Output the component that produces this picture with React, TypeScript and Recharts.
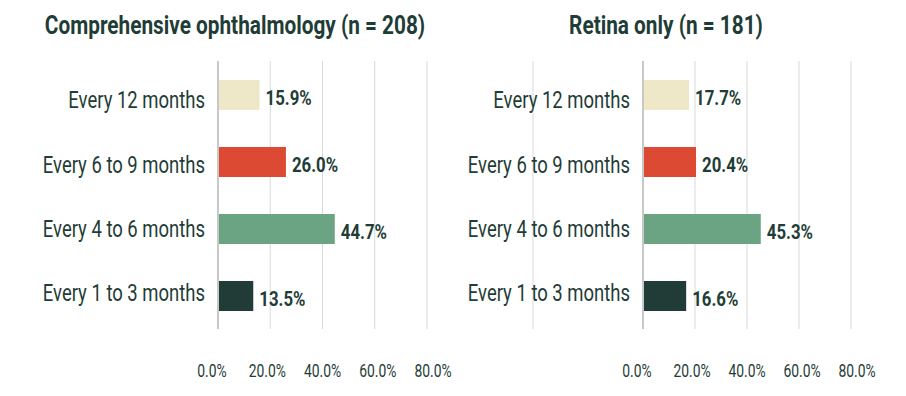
import { BarChart, Bar, XAxis, YAxis, CartesianGrid, Cell, LabelList, ReferenceLine } from 'recharts';

const categories = ['Every 12 months', 'Every 6 to 9 months', 'Every 4 to 6 months', 'Every 1 to 3 months'];
const comprehensiveValues = [15.9, 26.0, 44.7, 13.5];
const retinaValues = [17.7, 20.4, 45.3, 16.6];
const barColors = ['#EEE7C8', '#DC4A33', '#6BA482', '#213C37'];
const xTicks = [0, 20, 40, 60, 80];
const titles = ['Comprehensive ophthalmology (n = 208)', 'Retina only (n = 181)'];
// stray grid line visible left of the right-hand axis in the source
const strayLineValue = -42.3;

const FONT = "Roboto, 'Liberation Sans', sans-serif";
const TEXT = '#1F3D37';
// no condensed font installed, so squeeze text horizontally
const SQUEEZE = 0.77;

const comprehensiveData = categories.map((name, i) => ({ name, value: comprehensiveValues[i] }));
const retinaData = categories.map((name, i) => ({ name, value: retinaValues[i] }));

interface CTextProps {
  x: number;
  y: number;
  anchor?: 'start' | 'middle' | 'end';
  size: number;
  bold?: boolean;
  sx?: number;
  children: string;
}

function CText({ x, y, anchor = 'start', size, bold, sx = SQUEEZE, children }: CTextProps) {
  return (
    <text
      transform={`translate(${x} ${y}) scale(${sx} 1)`}
      textAnchor={anchor}
      fontFamily={FONT}
      fontSize={size}
      fontWeight={bold ? 'bold' : 'normal'}
      fill={TEXT}
    >
      {children}
    </text>
  );
}

function XTick({ x, y, payload }: any) {
  // tick labels in the source sit a little wider apart than the grid
  const shift = ((payload.value - 40) / 20) * 3;
  return (
    <CText x={x + shift} y={y + 39.5} anchor="middle" size={18}>
      {`${payload.value.toFixed(1)}%`}
    </CText>
  );
}

function YTick({ x, y, payload, index }: any) {
  // category labels are spaced slightly tighter than the bars in the source
  const nudge = -(index - 1.5) * 2.55;
  return (
    <CText x={x} y={y + 9.8 + nudge} anchor="end" size={24}>
      {payload.value}
    </CText>
  );
}

function ValueLabel({ x, y, width, height, value }: any) {
  return (
    <CText x={x + width + 6} y={y + height / 2 + 10} size={21} bold sx={0.8}>
      {`${Number(value).toFixed(1)}%`}
    </CText>
  );
}

interface PanelProps {
  data: { name: string; value: number }[];
  axisWidth: number;
  rightMargin: number;
  stray?: number;
}

function Panel({ data, axisWidth, rightMargin, stray }: PanelProps) {
  return (
    <BarChart
      width={453}
      height={396}
      data={data}
      layout="vertical"
      margin={{ top: 61, right: rightMargin, bottom: 0, left: 0 }}
      barSize={30}
      style={{ overflow: 'visible' }}
    >
      <CartesianGrid horizontal={false} stroke="#D9D9D9" />
      {stray !== undefined && (
        <ReferenceLine x={stray} stroke="#D9D9D9" ifOverflow="visible" />
      )}
      <XAxis
        type="number"
        domain={[0, 80]}
        ticks={xTicks}
        axisLine={false}
        tickLine={false}
        height={67}
        tick={<XTick />}
        interval={0}
      />
      <YAxis
        type="category"
        dataKey="name"
        width={axisWidth}
        axisLine={{ stroke: '#C8C8C8', strokeWidth: 2 }}
        tickLine={false}
        tickMargin={7}
        tick={<YTick />}
      />
      <Bar dataKey="value" isAnimationActive={false}>
        {data.map((_, i) => (
          <Cell key={`cell-${i}`} fill={barColors[i]} />
        ))}
        <LabelList dataKey="value" content={<ValueLabel />} />
      </Bar>
    </BarChart>
  );
}

export default function App() {
  return (
    <div style={{ position: 'absolute', left: 0, top: 0, width: 906, height: 396, background: '#fff' }}>
      <div style={{ position: 'absolute', left: 0, top: 0 }}>
        <Panel data={comprehensiveData} axisWidth={218} rightMargin={26} />
      </div>
      <div style={{ position: 'absolute', left: 453, top: 0 }}>
        <Panel data={retinaData} axisWidth={190} rightMargin={55} stray={strayLineValue} />
      </div>
      <svg width={906} height={396} style={{ position: 'absolute', left: 0, top: 0, pointerEvents: 'none' }}>
        <CText x={235} y={34} anchor="middle" size={26} bold sx={0.8}>
          {titles[0]}
        </CText>
        <CText x={666} y={34} anchor="middle" size={26} bold sx={0.8}>
          {titles[1]}
        </CText>
      </svg>
    </div>
  );
}
